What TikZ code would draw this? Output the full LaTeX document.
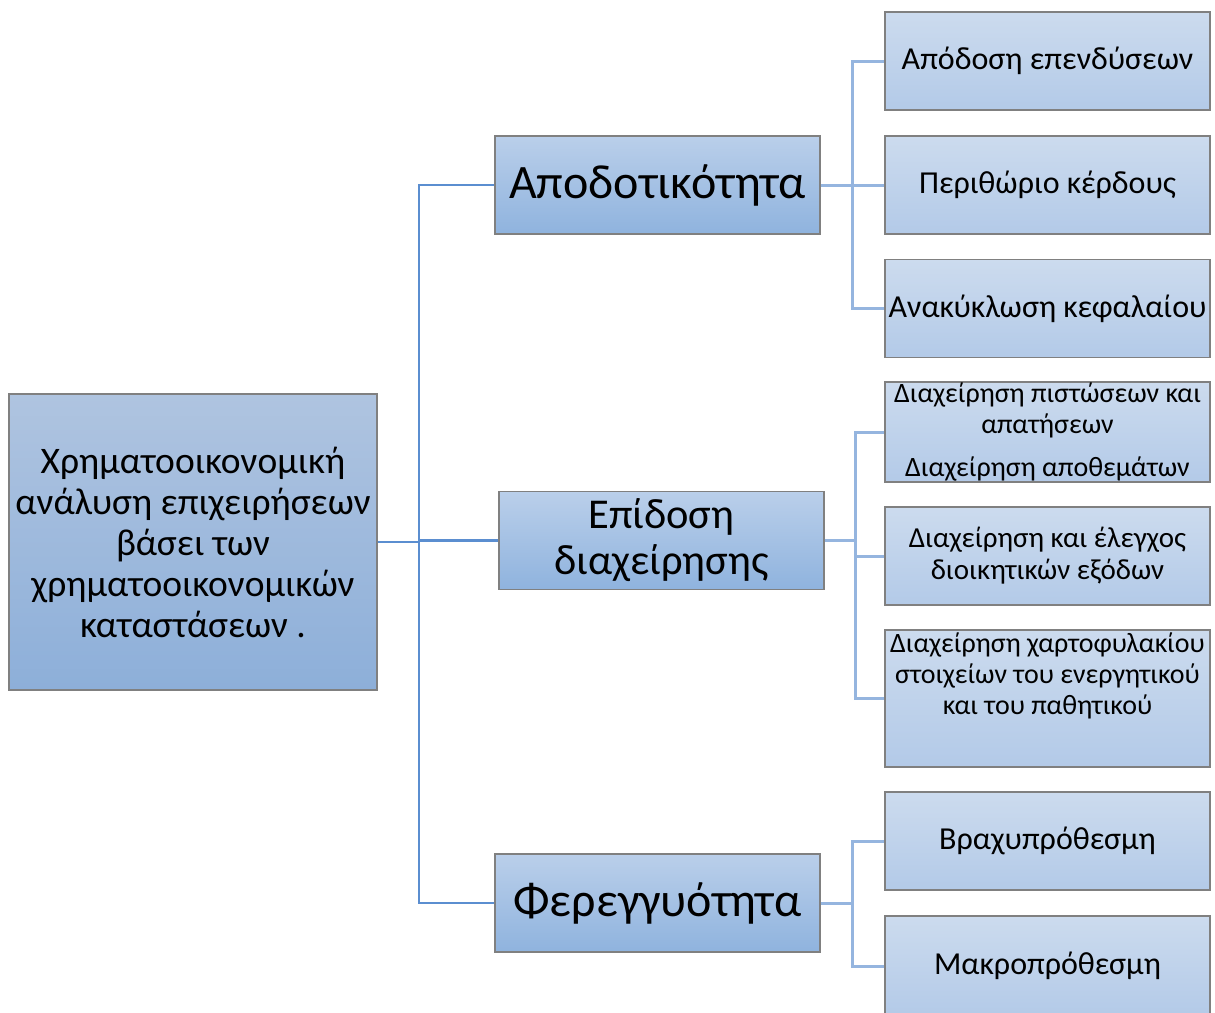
\documentclass[tikz,border=0pt]{standalone}
\usepackage{fontspec}
\setmainfont{Carlito}
\begin{document}
\begin{tikzpicture}[x=1pt,y=-1pt,
  box/.style={draw=boxline, line width=1.2pt, shade, align=center, inner sep=0pt, text=black},
  rootbox/.style={box, top color=rootTop, bottom color=rootBot, minimum width=368pt, minimum height=296pt, font=\fontsize{37.5}{41}\selectfont},
  midbox/.style={box, top color=midTop, bottom color=midBot, minimum width=325pt, minimum height=98pt, font=\fontsize{48}{50}\selectfont},
  leafbox/.style={box, top color=leafTop, bottom color=leafBot, minimum width=325pt, minimum height=98pt, font=\fontsize{32}{32}\selectfont},
  leaftxt/.style={align=center, inner sep=0pt, font=\fontsize{28}{31}\selectfont},
  trunk/.style={draw=trunkc, line width=2.5pt},
  branch/.style={draw=branchc, line width=3pt}
]
\definecolor{boxline}{HTML}{808080}
\definecolor{rootTop}{HTML}{AFC4E0}
\definecolor{rootBot}{HTML}{8DAFD9}
\definecolor{midTop}{HTML}{BACFEA}
\definecolor{midBot}{HTML}{8FB3DE}
\definecolor{leafTop}{HTML}{CCDBEE}
\definecolor{leafBot}{HTML}{B3CAE8}
\definecolor{trunkc}{HTML}{5B8ED0}
\definecolor{branchc}{HTML}{95B5DF}
\useasboundingbox (0,0) rectangle (1215,1012);

\coordinate (tj) at (419,542);
\coordinate (g1) at (852,185);
\coordinate (g2) at (855,540.5);
\coordinate (g3) at (852,903);

% nodes
\node[rootbox] (root) at (193,542) {Χρηματοοικονομική\\ανάλυση επιχειρήσεων\\βάσει των\\χρηματοοικονομικών\\καταστάσεων .};
\node[midbox] (m1) at (657.5,185) {Αποδοτικότητα};
\node[midbox, font=\fontsize{42.5}{46}\selectfont] (m2) at (661.5,540.5) {Επίδοση\\διαχείρησης};
\node[midbox] (m3) at (657.5,903) {Φερεγγυότητα};

\node[leafbox] (a1) at (1047.5,61) {Απόδοση επενδύσεων};
\node[leafbox] (a2) at (1047.5,185) {Περιθώριο κέρδους};
\node[leafbox] (a3) at (1047.5,308.5) {Ανακύκλωση κεφαλαίου};

\node[leafbox, minimum height=100pt, font=\fontsize{28}{31}\selectfont] (b1) at (1047.5,432) {Διαχείρηση πιστώσεων και\\απατήσεων\\[12pt]Διαχείρηση αποθεμάτων};
\node[leafbox, font=\fontsize{29}{32}\selectfont] (b2) at (1047.5,556) {Διαχείρηση και έλεγχος\\διοικητικών εξόδων};
\node[leafbox, minimum height=137pt] (b3) at (1047.5,698.5) {};
\node[leaftxt] (b3t) at (1047.5,676) {Διαχείρηση χαρτοφυλακίου\\στοιχείων του ενεργητικού\\και του παθητικού};

\node[leafbox] (c1) at (1047.5,841) {Βραχυπρόθεσμη};
\node[leafbox, minimum height=100pt] (c2) at (1047.5,966) {Μακροπρόθεσμη};

% trunk connectors
\draw[trunk] (root.east) -- (tj);
\draw[trunk] (tj) |- (m1.west);
\draw[trunk] (tj) |- (m2.west);
\draw[trunk] (tj) |- (m3.west);

% branch connectors
\draw[branch] (m1.east) -- (g1);
\draw[branch] (g1) |- (a1.west);
\draw[branch] (g1) |- (a2.west);
\draw[branch] (g1) |- (a3.west);

\draw[branch] (m2.east) -- (g2);
\draw[branch] (g2) |- (b1.west);
\draw[branch] (g2) |- (b2.west);
\draw[branch] (g2) |- (b3.west);

\draw[branch] (m3.east) -- (g3);
\draw[branch] (g3) |- (c1.west);
\draw[branch] (g3) |- (c2.west);
\end{tikzpicture}
\end{document}
